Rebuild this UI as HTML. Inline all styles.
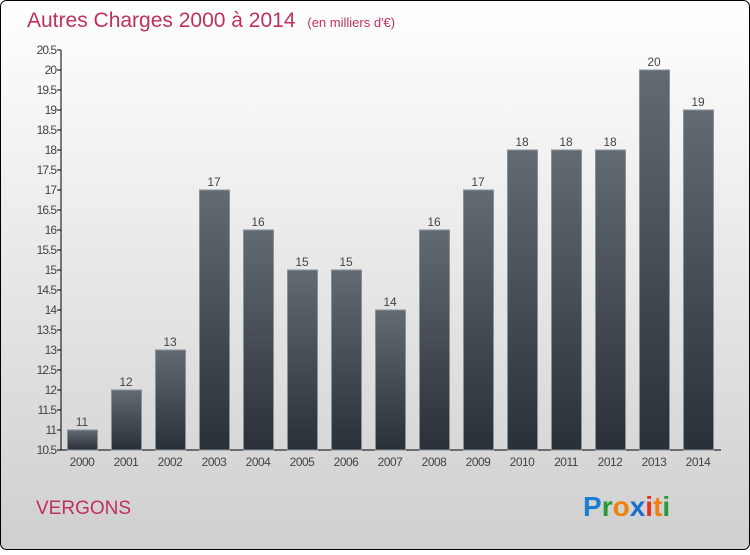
<!DOCTYPE html>
<html><head><meta charset="utf-8"><style>
body{margin:0;width:750px;height:550px;overflow:hidden;font-family:"Liberation Sans",sans-serif}
</style></head><body>
<svg width="750" height="550">
<defs>
<linearGradient id="bg" x1="0" y1="0" x2="0" y2="1"><stop offset="0" stop-color="#ffffff"/><stop offset="1" stop-color="#cfcfcf"/></linearGradient>
<linearGradient id="bar" x1="0" y1="0" x2="0" y2="1"><stop offset="0" stop-color="#626a72"/><stop offset="1" stop-color="#2a3038"/></linearGradient>
</defs>
<rect x="0.5" y="0.5" width="749" height="549" rx="6" fill="url(#bg)" stroke="#000"/>
<text x="27" y="27" font-size="21" fill="#c0305e">Autres Charges 2000 à 2014 <tspan font-size="13" dx="6">(en milliers d'€)</tspan></text>
<g id="axes"></g>
<g id="bars"></g>
<text x="36" y="514" font-size="19" fill="#c0305e">VERGONS</text>
<g font-size="28" font-weight="bold">
<text x="583" y="516" fill="#1a7fd4">P<tspan fill="#2a9a3a">r</tspan><tspan fill="#f08010">o</tspan><tspan fill="#1a70c8">x</tspan><tspan fill="#e83020">i</tspan><tspan fill="#f08010">t</tspan><tspan fill="#2a9a3a">i</tspan></text>
</g>
</svg>
<script>
const categories=["2000","2001","2002","2003","2004","2005","2006","2007","2008","2009","2010","2011","2012","2013","2014"];
const values=[11,12,13,17,16,15,15,14,16,17,18,18,18,20,19];
const yTicks=[10.5,11,11.5,12,12.5,13,13.5,14,14.5,15,15.5,16,16.5,17,17.5,18,18.5,19,19.5,20,20.5];
const NS="http://www.w3.org/2000/svg";
const y=v=>450-(v-10.5)*40;
const x=i=>67+i*44;
function mk(t,a,p){const e=document.createElementNS(NS,t);for(const k in a)e.setAttribute(k,a[k]);p.appendChild(e);return e;}
const ax=document.getElementById('axes'),bg=document.getElementById('bars');
let l=mk('line',{x1:61,y1:50,x2:61,y2:450,stroke:'#000'},ax);


l=mk('line',{x1:61,y1:450,x2:721,y2:450,stroke:'#000'},ax);


yTicks.forEach(v=>{
 mk('line',{x1:57,x2:61,y1:y(v),y2:y(v),stroke:'#000'},ax);
 const t=mk('text',{x:56,y:y(v)+4,'text-anchor':'end','font-size':12,fill:'#444','letter-spacing':'-1'},ax);
 t.textContent=String(v);
 
 
});
categories.forEach((c,i)=>{
 const r=mk('rect',{x:x(i)+0.5,y:y(values[i]),width:30,height:450-y(values[i]),fill:'url(#bar)',stroke:'#8a9098','stroke-width':1},bg);
 
 
 const t=mk('text',{x:x(i)+15,y:y(values[i])-4,'text-anchor':'middle','font-size':12,fill:'#444'},bg);
 t.textContent=values[i];
 
 
 const xl=mk('text',{x:x(i)+15,y:466,'text-anchor':'middle','font-size':12,fill:'#444','letter-spacing':'-0.5'},bg);
 xl.textContent=c;
 
 
});
</script>
</body></html>
